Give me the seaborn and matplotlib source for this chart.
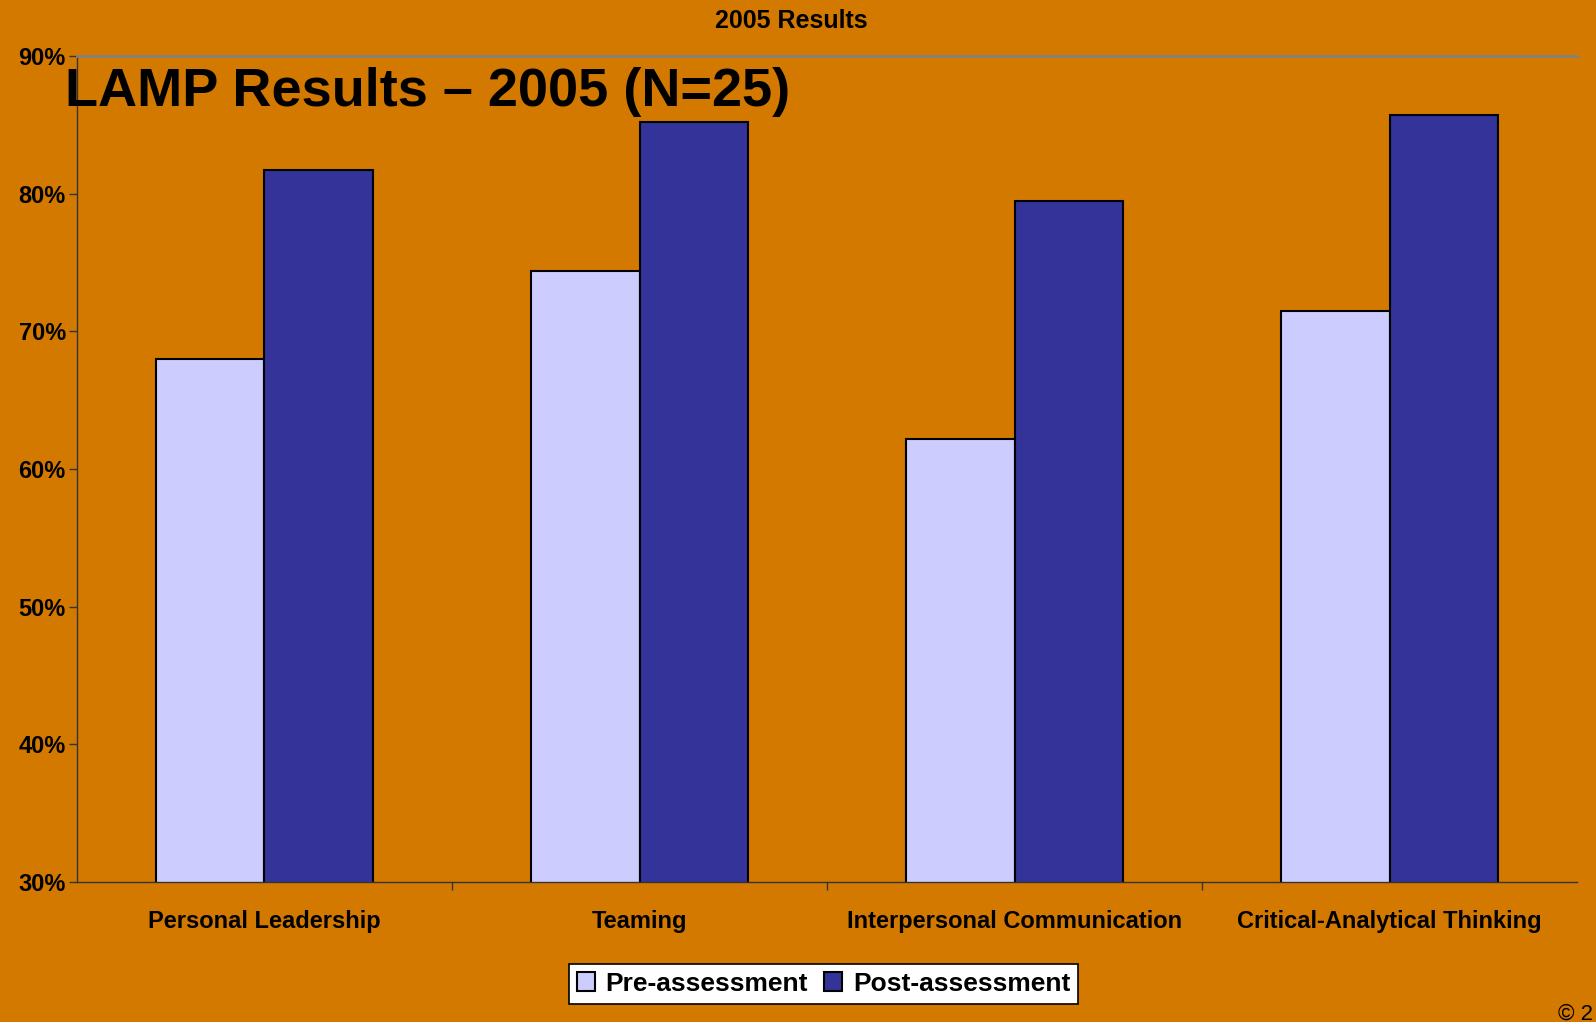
import numpy as np
import pandas as pd
import seaborn as sns
import matplotlib.pyplot as plt
from matplotlib.ticker import PercentFormatter

categories = ["Personal Leadership", "Teaming", "Interpersonal Communication", "Critical-Analytical Thinking"]
pre_scores = [68.0, 74.4, 62.2, 71.5]
post_scores = [81.7, 85.2, 79.5, 85.7]
series = ["Pre-assessment", "Post-assessment"]

bg = "#D47900"
colors = ["#CCCCFF", "#333399"]

df = pd.DataFrame({
    "skill": categories * 2,
    "score": pre_scores + post_scores,
    "phase": [series[0]] * 4 + [series[1]] * 4,
})

sns.set_theme(style="white")
plt.rcParams['font.family'] = ['Liberation Sans', 'DejaVu Sans']
plt.rcParams['text.color'] = 'black'
plt.rcParams['xtick.color'] = 'black'
plt.rcParams['ytick.color'] = 'black'

f = plt.figure(figsize=(15.96, 10.22), dpi=100, facecolor=bg)
ax = f.add_axes([0.0482, 0.137, 0.9400, 0.808])
ax.set_facecolor(bg)

sns.barplot(data=df, x="skill", y="score", hue="phase", palette=colors, saturation=1,
            width=0.577, edgecolor="black", linewidth=1.5, ax=ax, legend=False)

ax.set_ylim(30, 90)
ax.set_xlim(-0.5, 3.5)
ax.set_yticks(np.arange(30, 91, 10))
ax.yaxis.set_major_formatter(PercentFormatter(decimals=0))
ax.set_xticks([0.5, 1.5, 2.5], minor=True)
ax.tick_params(axis="x", which="major", length=0, pad=20, labelsize=17)
ax.tick_params(axis="x", which="minor", length=6, color="#333333", width=1, direction="out", bottom=True)
ax.tick_params(axis="y", length=6, color="#333333", width=1, direction="out", left=True, labelsize=17, pad=2)
for lab in ax.get_xticklabels() + ax.get_yticklabels():
    lab.set_fontweight("bold")
ax.set_xlabel("")
ax.set_ylabel("")

for side in ["left", "bottom"]:
    ax.spines[side].set_color("#333333")
    ax.spines[side].set_linewidth(1)
ax.spines["right"].set_visible(False)
ax.spines["top"].set_color("#808080")
ax.spines["top"].set_linewidth(2)

f.text(0.496, 0.979, "2005 Results", ha="center", va="center", fontsize=18, fontweight="bold")
f.text(0.041, 0.910, "LAMP Results \u2013 2005 (N=25)", ha="left", va="center",
       fontsize=39, fontweight="bold", family=['Liberation Sans Narrow', 'Liberation Sans', 'DejaVu Sans'])

handles = [plt.Rectangle((0, 0), 1, 1, facecolor=c, edgecolor="black", linewidth=1.5) for c in colors]
leg = f.legend(handles, series, loc="center", bbox_to_anchor=(0.516, 0.0375), ncol=2,
               frameon=True, fancybox=False, edgecolor="black", facecolor="white",
               prop={"weight": "bold", "size": 19}, handlelength=0.7, handleheight=0.7,
               handletextpad=0.4, columnspacing=0.6, borderpad=0.3, framealpha=1)
leg.get_frame().set_linewidth(1.2)

f.text(0.998, 0.008, "\u00a9 2", ha="right", va="center", fontsize=16)

f.savefig("out.png", dpi=100, facecolor=bg)
